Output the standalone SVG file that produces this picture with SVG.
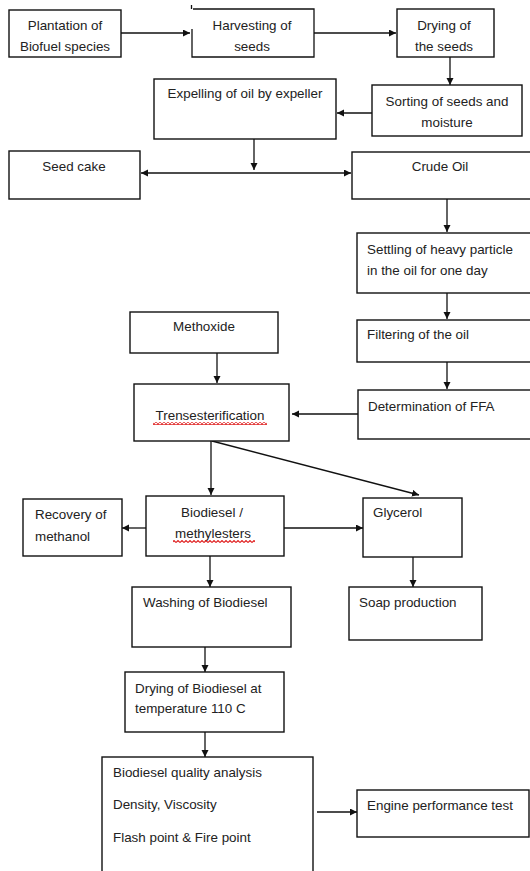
<svg xmlns="http://www.w3.org/2000/svg" width="530" height="871" viewBox="0 0 530 871">
<style>
.box{fill:#fff;stroke:#111;stroke-width:1.4}
.ln{fill:none;stroke:#111;stroke-width:1.3}
text{font-family:"Liberation Sans",Arial,sans-serif;font-size:13.4px;fill:#222}
.c{text-anchor:middle}
</style>
<defs>
<marker id="ah" markerUnits="userSpaceOnUse" markerWidth="8" markerHeight="8" refX="7" refY="3.5" orient="auto-start-reverse">
<path d="M0,0 L7,3.5 L0,7 z" fill="#111"/>
</marker>
<pattern id="wave" patternUnits="userSpaceOnUse" width="4" height="3">
<path d="M0,2.5 L2,0.5 L4,2.5" fill="none" stroke="#e02020" stroke-width="1.1"/>
</pattern>
</defs>
<rect width="530" height="871" fill="#fff"/>

<g id="connectors">
<line class="ln" x1="121" y1="33" x2="190" y2="33" marker-end="url(#ah)"/>
<line class="ln" x1="314" y1="33" x2="396" y2="33" marker-end="url(#ah)"/>
<line class="ln" x1="450" y1="57" x2="450" y2="85" marker-end="url(#ah)"/>
<line class="ln" x1="372" y1="113" x2="337" y2="113" marker-end="url(#ah)"/>
<line class="ln" x1="254" y1="139" x2="254" y2="170" marker-end="url(#ah)"/>
<line class="ln" x1="141" y1="173" x2="351" y2="173" marker-start="url(#ah)" marker-end="url(#ah)"/>
<line class="ln" x1="447" y1="199" x2="447" y2="232" marker-end="url(#ah)"/>
<line class="ln" x1="447" y1="293" x2="447" y2="319" marker-end="url(#ah)"/>
<line class="ln" x1="447" y1="362" x2="447" y2="389" marker-end="url(#ah)"/>
<line class="ln" x1="217" y1="353" x2="217" y2="383" marker-end="url(#ah)"/>
<line class="ln" x1="358" y1="414" x2="292" y2="414" marker-end="url(#ah)"/>
<line class="ln" x1="211" y1="441" x2="211" y2="495" marker-end="url(#ah)"/>
<line class="ln" x1="212" y1="441" x2="419" y2="495" marker-end="url(#ah)"/>
<line class="ln" x1="146" y1="528" x2="122" y2="528" marker-end="url(#ah)"/>
<line class="ln" x1="284" y1="528" x2="363" y2="528" marker-end="url(#ah)"/>
<line class="ln" x1="210" y1="556" x2="210" y2="587" marker-end="url(#ah)"/>
<line class="ln" x1="413" y1="557" x2="413" y2="587" marker-end="url(#ah)"/>
<line class="ln" x1="205" y1="647" x2="205" y2="672" marker-end="url(#ah)"/>
<line class="ln" x1="205" y1="732" x2="205" y2="757" marker-end="url(#ah)"/>
<line class="ln" x1="317" y1="812" x2="357" y2="812" marker-end="url(#ah)"/>
</g>

<g id="plantation">
<rect class="box" x="9" y="10" width="112" height="47"/>
<text class="c" x="65" y="30">Plantation of</text>
<text class="c" x="65" y="51">Biofuel species</text>
</g>
<g id="harvesting">
<path class="ln" d="M192,29 V57 H314 V9 H193" stroke-width="1.4"/>
<path class="ln" d="M191.5,5 V9"/>
<text class="c" x="252" y="30">Harvesting of</text>
<text class="c" x="252" y="51">seeds</text>
</g>
<g id="drying-seeds">
<rect class="box" x="397" y="9" width="97" height="48"/>
<text class="c" x="444" y="30">Drying of</text>
<text class="c" x="444" y="51">the seeds</text>
</g>
<g id="expelling">
<rect class="box" x="154" y="79" width="182" height="60"/>
<text class="c" x="245" y="98">Expelling of oil by expeller</text>
</g>
<g id="sorting">
<rect class="box" x="372" y="85" width="150" height="51"/>
<text class="c" x="447" y="106">Sorting of seeds and</text>
<text class="c" x="447" y="127">moisture</text>
</g>
<g id="seed-cake">
<rect class="box" x="9" y="151" width="131" height="48"/>
<text class="c" x="74" y="171">Seed cake</text>
</g>
<g id="crude-oil">
<rect class="box" x="352" y="152" width="185" height="47"/>
<text class="c" x="440" y="171">Crude Oil</text>
</g>
<g id="settling">
<rect class="box" x="357" y="233" width="180" height="60"/>
<text x="367" y="254">Settling of heavy particle</text>
<text x="367" y="275">in the oil for one day</text>
</g>
<g id="filtering">
<rect class="box" x="357" y="320" width="180" height="42"/>
<text x="367" y="339">Filtering of the oil</text>
</g>
<g id="methoxide">
<rect class="box" x="130" y="312" width="148" height="41"/>
<text class="c" x="204" y="331">Methoxide</text>
</g>
<g id="determination">
<rect class="box" x="358" y="390" width="180" height="49"/>
<text x="368" y="411">Determination of FFA</text>
</g>
<g id="transesterification">
<rect class="box" x="134" y="384" width="155" height="57"/>
<text class="c" x="210" y="420">Trensesterification</text>
<rect x="153" y="422" width="114" height="3" fill="url(#wave)"/>
</g>
<g id="recovery">
<rect class="box" x="23" y="499" width="99" height="57"/>
<text x="35" y="519">Recovery of</text>
<text x="35" y="541">methanol</text>
</g>
<g id="biodiesel">
<rect class="box" x="146" y="496" width="138" height="60"/>
<text class="c" x="212" y="517">Biodiesel /</text>
<text class="c" x="213" y="538">methylesters</text>
<rect x="173" y="540" width="82" height="3" fill="url(#wave)"/>
</g>
<g id="glycerol">
<rect class="box" x="363" y="498" width="99" height="59"/>
<text x="373" y="517">Glycerol</text>
</g>
<g id="washing">
<rect class="box" x="132" y="587" width="159" height="60"/>
<text x="143" y="607">Washing of Biodiesel</text>
</g>
<g id="soap">
<rect class="box" x="349" y="587" width="133" height="53"/>
<text x="359" y="607">Soap production</text>
</g>
<g id="drying-biodiesel">
<rect class="box" x="125" y="672" width="159" height="60"/>
<text x="135" y="693">Drying of Biodiesel at</text>
<text x="135" y="713">temperature 110 C</text>
</g>
<g id="quality">
<rect class="box" x="102" y="757" width="211" height="130"/>
<text x="113" y="777">Biodiesel quality analysis</text>
<text x="113" y="809">Density, Viscosity</text>
<text x="113" y="842">Flash point &amp; Fire point</text>
</g>
<g id="engine">
<rect class="box" x="357" y="790" width="172" height="47"/>
<text x="367" y="810">Engine performance test</text>
</g>
</svg>
